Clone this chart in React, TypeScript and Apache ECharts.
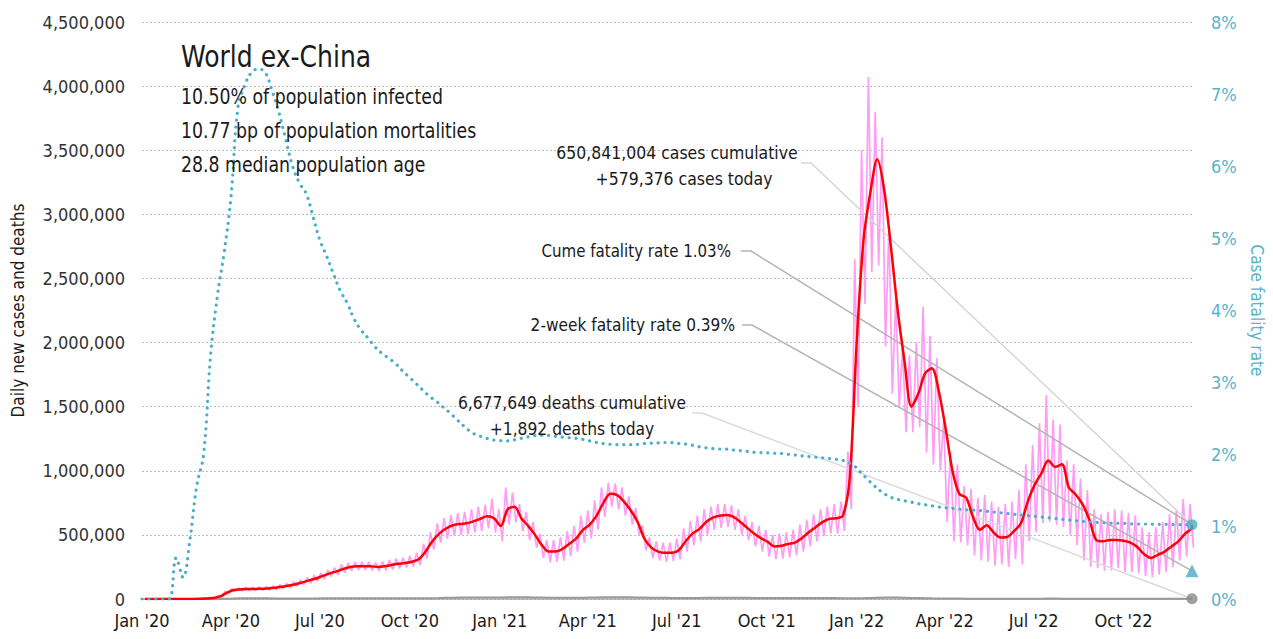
import React, { useEffect, useRef } from "react";
import * as echarts from "echarts";

const DAY = 86400000;
const START = Date.UTC(2020, 0, 1);
const END = Date.UTC(2022, 11, 10);

// weekly values, week i = START + 7*i days (thousands of cases)
const casesAvg7 = [
  0, 0, 0, 0, 0, 0, 0, 0, 1, 3,
  8, 20, 50, 70, 75, 78, 78, 80, 82, 87,
  95, 105, 115, 130, 145, 160, 180, 200, 215, 235,
  250, 255, 255, 255, 250, 255, 265, 275, 280, 290,
  310, 370, 450, 510, 550, 575, 585, 590, 605, 625,
  645, 630, 570, 700, 720, 630, 570, 500, 420, 370,
  370, 390, 430, 470, 540, 580, 650, 750, 820, 810,
  760, 690, 600, 470, 400, 370, 360, 360, 380, 450,
  510, 545, 600, 635, 650, 655, 640, 600, 555, 510,
  475, 445, 410, 415, 430, 440, 475, 520, 560, 600,
  625, 630, 650, 950, 2000, 2800, 3170, 3430, 3200, 2750,
  2250, 1850, 1500, 1600, 1760, 1800, 1620, 1330, 1000, 820,
  790, 640, 540, 575, 520, 480, 484, 530, 590, 760,
  890, 980, 1080, 1030, 1050, 870, 815, 740, 620, 460,
  450, 460, 460, 455, 440, 405, 350, 320, 345, 370,
  410, 450, 510, 560,
];
const casesDailyHigh = [
  0, 0, 0, 0, 0, 0, 0, 0, 2, 5,
  12, 28, 62, 82, 88, 92, 92, 95, 98, 102,
  112, 122, 135, 150, 168, 185, 205, 228, 245, 268,
  282, 288, 290, 290, 285, 292, 305, 315, 322, 335,
  360, 430, 520, 590, 630, 655, 670, 680, 700, 720,
  735, 780, 700, 870, 830, 740, 680, 600, 510, 460,
  460, 480, 530, 570, 650, 690, 770, 870, 905, 900,
  870, 800, 710, 570, 480, 450, 440, 440, 470, 550,
  610, 650, 700, 720, 740, 740, 730, 700, 650, 600,
  570, 540, 500, 510, 520, 540, 580, 620, 660, 700,
  720, 740, 760, 1150, 2650, 3500, 4070, 3800, 3600, 2900,
  2350, 1950, 1900, 2000, 2280, 2050, 1880, 1400, 1150, 1050,
  880, 860, 790, 810, 760, 720, 740, 760, 850, 1050,
  1200, 1370, 1590, 1400, 1360, 1080, 1050, 940, 850, 700,
  660, 680, 700, 690, 670, 650, 560, 520, 560, 600,
  660, 700, 780, 740,
];
const casesDailyLow = [
  0, 0, 0, 0, 0, 0, 0, 0, 0, 2,
  5, 14, 40, 60, 62, 66, 66, 66, 68, 72,
  80, 88, 98, 110, 122, 138, 155, 175, 188, 205,
  220, 225, 225, 222, 218, 222, 230, 238, 245, 252,
  265, 315, 385, 440, 470, 495, 500, 505, 520, 530,
  550, 520, 450, 580, 600, 530, 460, 400, 320, 285,
  290, 300, 335, 370, 440, 470, 540, 640, 720, 700,
  650, 580, 500, 380, 320, 300, 290, 295, 310, 370,
  420, 450, 500, 540, 555, 560, 540, 500, 460, 410,
  370, 330, 310, 315, 325, 340, 370, 410, 450, 490,
  510, 510, 530, 700, 1500, 2300, 2550, 2600, 1970, 1600,
  1500, 1300, 1300, 1340, 1140, 1050, 1000, 600, 450, 440,
  420, 340, 300, 290, 260, 270, 250, 310, 270, 450,
  520, 593, 600, 580, 560, 500, 420, 300, 250, 240,
  220, 220, 240, 210, 210, 200, 180, 170, 190, 210,
  250, 300, 330, 400,
];
// weekly deaths (thousands)
const deathsDaily = [
  0, 0, 0, 0, 0, 0, 0, 0, 0, 0,
  0.3, 1, 2.5, 4.5, 6, 6.5, 6, 5.5, 5, 4.5,
  4.2, 4.3, 4.5, 4.6, 4.6, 4.8, 5, 5.2, 5.5, 5.8,
  6, 6, 6, 6, 5.8, 5.5, 5.3, 5.3, 5.4, 5.5,
  5.6, 6, 6.8, 7.8, 9, 10, 10.8, 11.2, 11.6, 11.8,
  11.8, 11.4, 11.8, 13, 14, 14.2, 13.5, 12.5, 11.2, 10,
  9.2, 8.8, 8.8, 9.2, 10, 11, 12, 13, 13.5, 13.8,
  13.5, 12.8, 12, 11, 10, 9.5, 9, 8.5, 8, 8,
  8.3, 8.7, 9.2, 9.8, 10, 10, 9.8, 9.5, 9, 8.5,
  8, 7.5, 7.2, 7, 7, 7, 7, 7.2, 7.3, 7.3,
  7.2, 7, 6.8, 6.5, 6.5, 7, 8.5, 10, 11, 11.2,
  10.8, 9.8, 8.5, 7.5, 6.5, 5.5, 4.8, 4, 3.5, 3,
  2.5, 2.3, 2.1, 1.9, 1.8, 1.7, 1.7, 1.8, 1.9, 2.2,
  2.5, 2.8, 3, 3, 2.9, 2.7, 2.5, 2.2, 2, 1.8,
  1.7, 1.6, 1.6, 1.5, 1.5, 1.5, 1.5, 1.5, 1.6, 1.6,
  1.7, 1.8, 1.9, 1.9,
];
// weekly cumulative case fatality rate (%)
const caseFatalityRate = [
  0, 0, 0, 0, 0, 0.57, 0.3, 0.82, 1.57, 2.0,
  3.35, 4.19, 4.8, 5.57, 6.8, 7.12, 7.3, 7.35, 7.3, 7.05,
  6.75, 6.37, 6.0, 5.77, 5.62, 5.3, 4.97, 4.75, 4.5, 4.27,
  4.1, 3.88, 3.73, 3.62, 3.5, 3.41, 3.34, 3.27, 3.17, 3.08,
  2.99, 2.9, 2.81, 2.74, 2.66, 2.58, 2.49, 2.4, 2.32, 2.27,
  2.24, 2.21, 2.2, 2.19, 2.2, 2.22, 2.24, 2.26, 2.27, 2.27,
  2.26, 2.25, 2.24, 2.23, 2.22, 2.2, 2.18, 2.16, 2.15, 2.14,
  2.14, 2.14, 2.14, 2.15, 2.16, 2.16, 2.17, 2.17, 2.16, 2.15,
  2.14, 2.12, 2.1, 2.09, 2.08, 2.08, 2.07, 2.06, 2.05, 2.04,
  2.03, 2.03, 2.02, 2.02, 2.01, 2.0, 1.99, 1.98, 1.97, 1.96,
  1.95, 1.94, 1.93, 1.9, 1.85, 1.76, 1.66, 1.57, 1.49, 1.43,
  1.39, 1.37, 1.35, 1.33, 1.31, 1.3, 1.28, 1.27, 1.26, 1.25,
  1.24, 1.235, 1.23, 1.22, 1.21, 1.2, 1.19, 1.18, 1.17, 1.16,
  1.15, 1.14, 1.13, 1.12, 1.11, 1.1, 1.09, 1.08, 1.07, 1.065,
  1.06, 1.055, 1.05, 1.05, 1.045, 1.04, 1.04, 1.04, 1.035, 1.035,
  1.035, 1.03, 1.03, 1.03,
];

const CASES_TODAY = 579376;
const AVG_TODAY = 577000;
const DEATHS_TODAY = 1892;
const CUME_CFR = 1.03;
const TWO_WEEK_CFR = 0.39;

const leftTicks = { min: 0, max: 4500000, interval: 500000 };
const rightTicks = { min: 0, max: 8, interval: 1 };
const monthNames = ["Jan", "Feb", "Mar", "Apr", "May", "Jun", "Jul", "Aug", "Sep", "Oct", "Nov", "Dec"];
const labelDates = [
  [2020, 0], [2020, 3], [2020, 6], [2020, 9],
  [2021, 0], [2021, 3], [2021, 6], [2021, 9],
  [2022, 0], [2022, 3], [2022, 6], [2022, 9],
];

const titleText = "World ex-China";
const statLines = [
  "10.50% of population infected",
  "10.77 bp of population mortalities",
  "28.8 median population age",
];
const casesLabel = ["650,841,004 cases cumulative", "+579,376 cases today"];
const cumeLabel = "Cume fatality rate 1.03%";
const twoWeekLabel = "2-week fatality rate 0.39%";
const deathsLabel = ["6,677,649 deaths cumulative", "+1,892 deaths today"];

const FONT = "'DejaVu Sans Condensed', 'Liberation Sans Narrow', Roboto, sans-serif";
const TEAL = "#4aaec6";
const TEAL_TXT = "#58b3c9";
const PINK = "#ff9cf4";
const RED = "#ff0000";
const INK = "#1a1a1a";

const wk = (i: number, off: number) => START + (7 * i + off) * DAY;

export default function App() {
  const ref = useRef<HTMLDivElement>(null);
  useEffect(() => {
    if (!ref.current) return;
    const chart = echarts.init(ref.current, null, { renderer: "svg" });

    const pinkData: any[] = [];
    casesDailyHigh.forEach((v, i) => {
      pinkData.push([wk(i, 1), v * 1000]);
      pinkData.push([wk(i, 4.5), casesDailyLow[i] * 1000]);
    });
    pinkData.push([END, CASES_TODAY]);
    const avgData: any[] = casesAvg7.map((v, i) => [wk(i, 3), v * 1000]);
    avgData.push([END, AVG_TODAY]);
    const deathData: any[] = deathsDaily.map((v, i) => [wk(i, 3), v * 1000]);
    deathData.push([END, DEATHS_TODAY]);
    const cfrData: any[] = caseFatalityRate.map((v, i) => [wk(i, 0), v]);
    cfrData.push([END, CUME_CFR]);

    const labelValues = labelDates.map(([y, m]) => Date.UTC(y, m, 1));

    chart.setOption({
      animation: false,
      textStyle: { fontFamily: FONT },
      grid: { left: 142, right: 73, top: 22, bottom: 40, containLabel: false },
      xAxis: {
        type: "value",
        min: START,
        max: END,
        axisLine: { show: true, lineStyle: { color: "#aaaaaa", width: 1.5 } },
        axisTick: { show: false },
        splitLine: { show: false },
        axisLabel: {
          customValues: labelValues,
          fontFamily: FONT,
          fontSize: 18,
          color: INK,
          margin: 12,
          formatter: (v: number) => {
            const d = new Date(v);
            return `${monthNames[d.getUTCMonth()]} '${String(d.getUTCFullYear()).slice(2)}`;
          },
        },
      },
      yAxis: [
        {
          type: "value",
          ...leftTicks,
          position: "left",
          name: "Daily new cases and deaths",
          nameLocation: "middle",
          nameGap: 116,
          nameTextStyle: { fontFamily: FONT, fontSize: 17, color: INK },
          axisLine: { show: false },
          axisTick: { show: false },
          axisLabel: {
            fontFamily: FONT,
            fontSize: 18,
            color: "#333",
            margin: 17,
            formatter: (v: number) => v.toLocaleString("en-US"),
          },
          splitLine: { lineStyle: { color: "#bbbbbb", type: [2, 2], width: 1 } },
        },
        {
          type: "value",
          ...rightTicks,
          position: "right",
          name: "Case fatality rate",
          nameLocation: "middle",
          nameRotate: -90,
          nameGap: 56,
          nameTextStyle: { fontFamily: FONT, fontSize: 17, color: TEAL_TXT },
          axisLine: { show: false },
          axisTick: { show: false },
          axisLabel: { fontFamily: FONT, fontSize: 18, color: TEAL_TXT, margin: 19, formatter: "{value}%" },
          splitLine: { show: false },
        },
      ],
      series: [
        {
          name: "Daily cases",
          type: "line",
          data: pinkData,
          showSymbol: false,
          z: 1,
          lineStyle: { color: PINK, width: 1.7 },
        },
        {
          name: "Daily deaths",
          type: "line",
          data: deathData,
          showSymbol: false,
          z: 3,
          lineStyle: { color: "#999999", width: 2 },
        },
        {
          name: "7-day average cases",
          type: "line",
          data: avgData,
          showSymbol: false,
          smooth: 0.3,
          z: 4,
          lineStyle: { color: RED, width: 2.5 },
        },
        {
          name: "Case fatality rate",
          type: "line",
          yAxisIndex: 1,
          data: cfrData,
          showSymbol: false,
          smooth: 0.4,
          z: 5,
          lineStyle: { color: TEAL, width: 3.2, type: [0.1, 6.8], cap: "round" },
        },
        {
          type: "scatter",
          yAxisIndex: 1,
          data: [[END, CUME_CFR]],
          symbol: "circle",
          symbolSize: 11,
          z: 6,
          itemStyle: { color: TEAL },
        },
        {
          type: "scatter",
          yAxisIndex: 1,
          data: [[END, TWO_WEEK_CFR]],
          symbol: "triangle",
          symbolSize: 13,
          z: 6,
          itemStyle: { color: TEAL },
        },
        {
          type: "scatter",
          yAxisIndex: 0,
          data: [[END, DEATHS_TODAY]],
          symbol: "circle",
          symbolSize: 11,
          z: 6,
          itemStyle: { color: "#888888" },
        },
      ],
    });

    const px = (x: number, y: number, yi: number) =>
      chart.convertToPixel({ xAxisIndex: 0, yAxisIndex: yi } as any, [x, y]) as number[];
    const pCases = px(END, AVG_TODAY, 0);
    const pCume = px(END, CUME_CFR, 1);
    const pTwo = px(END, TWO_WEEK_CFR, 1);
    const pDeaths = px(END, DEATHS_TODAY, 0);

    const txt = (
      text: string,
      x: number,
      y: number,
      size: number,
      align = "left",
      sx = 1,
      fill = INK
    ) => ({
      type: "text",
      x,
      y,
      scaleX: sx,
      z: 10,
      style: { text, font: `${size}px ${FONT}`, fill, align, verticalAlign: "middle" },
    });
    const leader = (x0: number, y0: number, end: number[], color: string) => ({
      type: "polyline",
      z: 2,
      silent: true,
      shape: { points: [[x0, y0], [x0 + 10, y0], [end[0], end[1]]] },
      style: { stroke: color, lineWidth: 1.5, fill: "none" },
    });

    chart.setOption({
      graphic: [
        txt(titleText, 181, 57, 30, "left", 0.93),
        ...statLines.map((s, i) => txt(s, 181, 97 + i * 34, 20.5, "left", 0.94)),
        txt(casesLabel[0], 677, 153, 18, "center", 0.97),
        txt(casesLabel[1], 684, 179, 18, "center", 0.97),
        txt(cumeLabel, 731, 251, 18, "right", 0.93),
        txt(twoWeekLabel, 735, 325, 18, "right", 0.95),
        txt(deathsLabel[0], 572, 403, 18, "center", 0.96),
        txt(deathsLabel[1], 572, 429, 18, "center", 0.96),
        leader(801, 163, pCases, "#d6d6d6"),
        leader(741, 251, pCume, "#b4b4b4"),
        leader(742, 325, pTwo, "#b4b4b4"),
        leader(692, 413, pDeaths, "#dadada"),
      ],
    });

    return () => chart.dispose();
  }, []);

  return (
    <div
      ref={ref}
      style={{ position: "fixed", left: 0, top: 0, width: 1273, height: 639, background: "#fff" }}
    />
  );
}
